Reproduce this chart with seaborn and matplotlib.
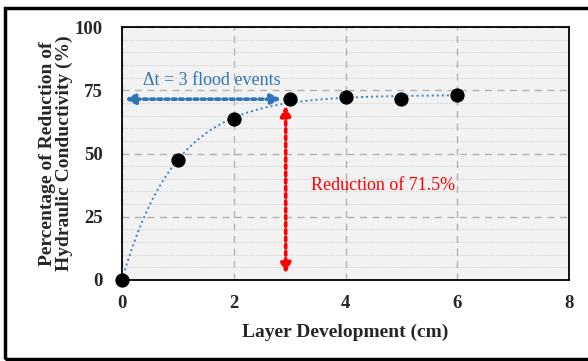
import numpy as np
import pandas as pd
import matplotlib
matplotlib.use("Agg")
import matplotlib.pyplot as plt
from matplotlib.patches import Rectangle
import seaborn as sns

# data
layer_cm = [0, 1, 2, 3, 4, 5, 6]
reduction_pct = [0, 47.5, 63.5, 71.5, 72.5, 71.5, 73.0]
x_ticks = [0, 2, 4, 6, 8]
y_ticks = [0, 25, 50, 75, 100]

df = pd.DataFrame({"layer": layer_cm, "reduction": reduction_pct})

# exponential trend line y = a*(1-exp(-b x)), fitted to the points
xs = np.array(layer_cm, float)
ys = np.array(reduction_pct, float)
best = None
for b in np.linspace(0.1, 3, 600):
    g = 1 - np.exp(-b * xs)
    a = (g @ ys) / (g @ g)
    err = ((a * g - ys) ** 2).sum()
    if best is None or err < best[0]:
        best = (err, a, b)
_, a_fit, b_fit = best
xfit = np.linspace(0, 6, 200)
fit = pd.DataFrame({"layer": xfit, "reduction": a_fit * (1 - np.exp(-b_fit * xfit))})

sns.set_style("white")
plt.rcParams["font.family"] = ["Liberation Serif", "DejaVu Serif"]

fig = plt.figure(figsize=(5.88, 3.61), dpi=100)
ax = fig.add_axes([0.2075, 0.2244, 0.7602, 0.7006])
ax.set_facecolor("#f2f2f2")

# outer frame
fig.patches.append(Rectangle((0.009, 0.006), 0.995, 0.972, transform=fig.transFigure,
                             fill=False, edgecolor="black", linewidth=2.5))

sns.lineplot(data=fit, x="layer", y="reduction", ax=ax, color="#3a82c4",
             linestyle=(0, (1, 1.6)), linewidth=1.4, zorder=3)
sns.scatterplot(data=df, x="layer", y="reduction", ax=ax, color="black",
                s=90, edgecolor="black", zorder=5, clip_on=False)

ax.set_xlim(0, 8)
ax.set_ylim(0, 100)
ax.set_xticks(x_ticks)
ax.set_yticks(y_ticks)
ax.set_yticks(np.arange(0, 101, 5), minor=True)
ax.grid(which="major", axis="both", color="#b0b0b0", linestyle=(0, (5, 4)), linewidth=1.0)
ax.grid(which="minor", axis="y", color="#d4d4d4", linestyle=(0, (1, 1)), linewidth=0.8)
ax.tick_params(which="both", length=0, labelsize=13.5)
ax.tick_params(axis="y", pad=14)
ax.tick_params(axis="x", pad=11)
for lab in ax.get_xticklabels() + ax.get_yticklabels():
    lab.set_fontweight("bold")
for sp in ax.spines.values():
    sp.set_color("black")
    sp.set_linewidth(1.3)

ax.set_xlabel("Layer Development (cm)", fontsize=14, fontweight="bold", labelpad=8)
ax.set_ylabel("Percentage of Reduction of\nHydraulic Conductivity (%)", fontsize=14,
              fontweight="bold", labelpad=1, linespacing=0.95)

# annotations
ax.annotate("", xy=(0.05, 71.5), xytext=(2.85, 71.5),
            arrowprops=dict(arrowstyle="<|-|>", color="#2e75b6", linestyle=(0, (1, 1)),
                            linewidth=2.6, mutation_scale=15, shrinkA=0, shrinkB=0))
ax.text(1.6, 79, "\u0394t = 3 flood events", color="#2e75b6", fontsize=13,
        ha="center", va="center")
ax.annotate("", xy=(2.93, 69), xytext=(2.93, 2.5),
            arrowprops=dict(arrowstyle="<|-|>", color="#ff0000", linestyle=(0, (1, 1)),
                            linewidth=2.6, mutation_scale=15, shrinkA=0, shrinkB=0))
ax.text(4.67, 37.5, "Reduction of 71.5%", color="#ff0000", fontsize=13,
        ha="center", va="center")

fig.savefig("out.png", dpi=100)
